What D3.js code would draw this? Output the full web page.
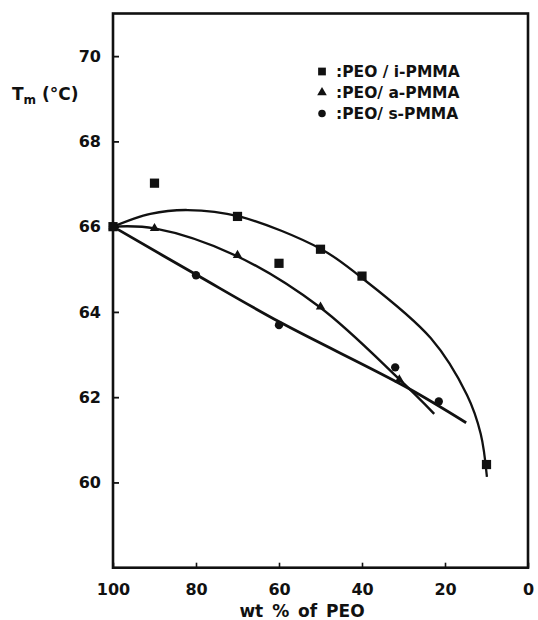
<!DOCTYPE html>
<html>
<head>
<meta charset="utf-8">
<script src="https://cdn.jsdelivr.net/npm/d3@7/dist/d3.min.js"></script>
<style>
  html, body { margin: 0; padding: 0; background: #fff; }
  svg { display: block; }
  text { font-family: "DejaVu Sans", sans-serif; font-weight: bold; fill: #111; }
</style>
</head>
<body>
<svg id="chart" width="538" height="620"></svg>
<script>
// ---- data ----
const xTicks = [100, 80, 60, 40, 20, 0];
const yTicks = [60, 62, 64, 66, 68, 70];

// measured points: wt % PEO, Tm (°C)
const iPMMA_x = [100, 90, 70, 60, 50, 40, 10];
const iPMMA_y = [66.0, 67.02, 66.24, 65.14, 65.47, 64.84, 60.42];

const aPMMA_x = [100, 90, 70, 50, 31];
const aPMMA_y = [66.0, 65.96, 65.33, 64.12, 62.41];

const sPMMA_x = [100, 80, 60, 32, 21.5];
const sPMMA_y = [66.0, 64.86, 63.69, 62.70, 61.90];

// hand-drawn fitted curves (as traced on the figure)
const iCurve_x = [100, 91, 82, 69.6, 49.8, 40.6, 23.4, 14.7, 11.4, 9.9];
const iCurve_y = [66.0, 66.30, 66.39, 66.24, 65.47, 64.84, 63.38, 62.05, 61.14, 60.13];

const aCurve_x = [100, 90, 70.6, 50.3, 30.9, 22.6];
const aCurve_y = [66.0, 65.96, 65.33, 64.12, 62.41, 61.61];

const sCurve_x = [100, 79.7, 59.6, 29.6, 14.9];
const sCurve_y = [66.0, 64.86, 63.75, 62.25, 61.40];

const legendLabels = [":PEO / i-PMMA", ":PEO/ a-PMMA", ":PEO/ s-PMMA"];
const legendShapes = ["square", "triangle", "circle"];

// ---- chart ----
const svg = d3.select("#chart");
const x = d3.scaleLinear().domain([100, 0]).range([113, 528]);
const y = d3.scaleLinear().domain([58, 71]).range([567.7, 13.5]);

const zip = (xs, ys) => xs.map((v, i) => [v, ys[i]]);

// frame
svg.append("rect")
  .attr("x", x(100)).attr("y", y(71))
  .attr("width", x(0) - x(100)).attr("height", y(58) - y(71))
  .attr("fill", "none").attr("stroke", "#111").attr("stroke-width", 2.6);

// axes with inward ticks
const xAxis = d3.axisBottom(x).tickValues(xTicks).tickSize(-5).tickPadding(16)
  .tickFormat(d3.format("d"));
const gx = svg.append("g").attr("transform", `translate(0,${y(58)})`).call(xAxis);
gx.select(".domain").remove();
gx.selectAll(".tick line").attr("stroke", "#111").attr("stroke-width", 1.6);
gx.selectAll(".tick text").style("font-size", "16px").attr("fill", "#111");

const yAxis = d3.axisLeft(y).tickValues(yTicks).tickSize(-6).tickPadding(12)
  .tickFormat(d3.format("d"));
const gy = svg.append("g").attr("transform", `translate(${x(100)},0)`).call(yAxis);
gy.select(".domain").remove();
gy.selectAll(".tick line").attr("stroke", "#111").attr("stroke-width", 1.8);
gy.selectAll(".tick text").style("font-size", "16px").attr("fill", "#111");

// curves
const line = d3.line().x(d => x(d[0])).y(d => y(d[1])).curve(d3.curveCatmullRom.alpha(0.5));
svg.append("path").datum(zip(iCurve_x, iCurve_y)).attr("d", line)
  .attr("fill", "none").attr("stroke", "#111").attr("stroke-width", 2.3);
svg.append("path").datum(zip(aCurve_x, aCurve_y)).attr("d", line)
  .attr("fill", "none").attr("stroke", "#111").attr("stroke-width", 2.4);
svg.append("path").datum(zip(sCurve_x, sCurve_y)).attr("d", line)
  .attr("fill", "none").attr("stroke", "#111").attr("stroke-width", 2.8);

// markers
const sym = {
  square: d3.symbol().type(d3.symbolSquare).size(85),
  triangle: d3.symbol().type(d3.symbolTriangle).size(38),
  circle: d3.symbol().type(d3.symbolCircle).size(55)
};
function drawPoints(xs, ys, shape) {
  svg.append("g").selectAll("path").data(zip(xs, ys)).join("path")
    .attr("transform", d => `translate(${x(d[0])},${y(d[1])})`)
    .attr("d", sym[shape]).attr("fill", "#111");
}
drawPoints(iPMMA_x, iPMMA_y, "square");
drawPoints(aPMMA_x, aPMMA_y, "triangle");
drawPoints(sPMMA_x, sPMMA_y, "circle");

// legend
const lg = svg.append("g");
legendLabels.forEach((lab, i) => {
  const cy = 71.5 + i * 21;
  lg.append("path").attr("transform", `translate(322,${cy})`)
    .attr("d", legendShapes[i] === "square" ? d3.symbol().type(d3.symbolSquare).size(60)()
         : legendShapes[i] === "triangle" ? d3.symbol().type(d3.symbolTriangle).size(40)()
         : d3.symbol().type(d3.symbolCircle).size(45)())
    .attr("fill", "#111");
  lg.append("text").attr("x", 336).attr("y", cy).attr("dy", "0.36em")
    .style("font-size", "15.5px").text(lab);
});

// axis titles
const yt = svg.append("text").attr("x", 12).attr("y", 100).style("font-size", "17px");
yt.append("tspan").text("T");
yt.append("tspan").attr("dy", 4).style("font-size", "12px").text("m");
yt.append("tspan").attr("dy", -4).text(" (°C)");

svg.append("text").attr("x", 302).attr("y", 617).attr("text-anchor", "middle")
  .style("font-size", "17px").style("word-spacing", "3px").text("wt % of PEO");
</script>
</body>
</html>
